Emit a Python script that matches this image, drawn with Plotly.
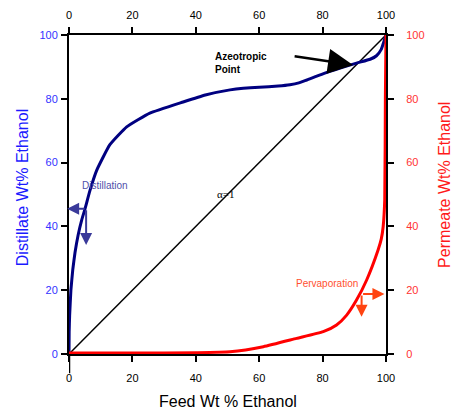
import plotly.graph_objects as go

# Distillation (vapour-liquid equilibrium) curve
dist_feed = [0, 0.05, 0.2, 0.6, 1.2, 1.9, 2.9, 4.0, 5.05, 6.6, 8.7, 12.9, 18.2, 25.5,
             36.0, 43.0, 50.8, 55.0, 60.0, 66.0, 69.7, 72.5, 75.0, 82.3, 90.7, 95.0,
             97.0, 98.5, 99.2, 100]
dist_vals = [0, 7, 12, 20, 26.5, 31.8, 37.4, 42.0, 45.5, 51.2, 57.5, 65.6, 71.2, 75.5,
             79.0, 81.2, 82.8, 83.3, 83.6, 84.0, 84.4, 85.0, 85.9, 88.6, 91.2, 92.4,
             93.5, 95.5, 97.5, 100]

# Pervaporation curve
perv_feed = [0, 20, 40, 50.8, 61.3, 71.8, 80.2, 84.4, 87.6, 90.7, 93.9, 97.5, 98.5,
             99.1, 99.6, 99.8, 100]
perv_vals = [0.3, 0.3, 0.4, 0.7, 2.3, 4.9, 7.0, 9.1, 12.2, 16.9, 23.2, 32.6, 36.0,
             39.9, 48.3, 80.0, 100]

# alpha = 1 diagonal
diag_x = [0, 100]
diag_y = [0, 100]

ticks = [0, 20, 40, 60, 80, 100]
tick_text = ["0", "20", "40", "60", "80", "100"]

FONT = "Liberation Sans, Arial, sans-serif"

fig = go.Figure()
fig.add_trace(go.Scatter(x=diag_x, y=diag_y, mode="lines",
                         line=dict(color="black", width=1.5), showlegend=False,
                         xaxis="x", yaxis="y"))
fig.add_trace(go.Scatter(x=dist_feed, y=dist_vals, mode="lines",
                         line=dict(color="#000080", width=3, shape="spline", smoothing=0.4),
                         showlegend=False, xaxis="x", yaxis="y"))
fig.add_trace(go.Scatter(x=perv_feed, y=perv_vals, mode="lines",
                         line=dict(color="#ff0000", width=3, shape="spline", smoothing=0.5),
                         showlegend=False, xaxis="x2", yaxis="y2"))

axis_common = dict(range=[0, 100], tickvals=ticks, ticktext=tick_text, automargin=False,
                   showgrid=False, zeroline=False, showline=True, linecolor="black",
                   linewidth=2, ticks="outside", ticklen=6, tickwidth=2,
                   tickcolor="black", fixedrange=True)

fig.update_layout(
    width=453, height=412,
    margin=dict(l=69, r=67, t=35, b=58, autoexpand=False),
    paper_bgcolor="white", plot_bgcolor="white",
    font=dict(family=FONT, size=11, color="black"),
    xaxis=dict(**axis_common, side="bottom", ticklabelstandoff=7,
               tickfont=dict(family=FONT, size=11, color="black")),
    xaxis2=dict(**axis_common, side="top", overlaying="x", anchor="y", ticklabelstandoff=4,
                tickfont=dict(family=FONT, size=11, color="black")),
    yaxis=dict(**axis_common, side="left", ticklabelstandoff=1,
               tickfont=dict(family=FONT, size=11, color="#3333ff")),
    yaxis2=dict(**axis_common, side="right", overlaying="y", anchor="x", ticklabelstandoff=10,
                tickfont=dict(family=FONT, size=11, color="#ff3333")),
)

# left axis extension below the bottom axis
fig.add_shape(type="line", xref="x", yref="paper", x0=0, x1=0, y0=0, y1=-0.06,
              line=dict(color="black", width=2.5))

ann = []
# axis titles
ann.append(dict(text="Distillate Wt% Ethanol", xref="paper", yref="paper",
                x=-0.148, y=0.52, textangle=-90, showarrow=False,
                font=dict(family=FONT, size=16, color="#1a1aff"),
                xanchor="center", yanchor="middle"))
ann.append(dict(text="Permeate Wt% Ethanol", xref="paper", yref="paper",
                x=1.186, y=0.53, textangle=-90, showarrow=False,
                font=dict(family=FONT, size=16, color="#ff1a1a"),
                xanchor="center", yanchor="middle"))
ann.append(dict(text="Feed Wt % Ethanol", xref="paper", yref="paper",
                x=0.5, y=-0.15, showarrow=False,
                font=dict(family=FONT, size=16, color="black"),
                xanchor="center", yanchor="middle"))

# text labels
ann.append(dict(text="Azeotropic<br>Point", x=45.5, y=91.2, xref="x", yref="y",
                showarrow=False, xanchor="left", yanchor="middle", align="left",
                font=dict(family=FONT, size=10, color="black", weight="bold")))
ann.append(dict(text="Distillation", x=11.4, y=52.7, xref="x", yref="y",
                showarrow=False, font=dict(family=FONT, size=10, color="#5050aa")))
ann.append(dict(text="Pervaporation", x=81.3, y=22.2, xref="x", yref="y",
                showarrow=False, font=dict(family=FONT, size=10, color="#ff5030")))
ann.append(dict(text="α=1", x=49.5, y=50.2, xref="x", yref="y",
                showarrow=False, font=dict(family="Liberation Serif, Times New Roman, serif",
                                           size=11, color="black")))

# azeotrope arrow
ann.append(dict(x=89.6, y=90.6, ax=70.7, ay=93.4, xref="x", yref="y", axref="x", ayref="y",
                text="", showarrow=True, arrowhead=2, arrowsize=2, arrowwidth=2.5,
                arrowcolor="black"))
# distillation arrows
for tx, ty in [(-0.6, 45.5), (5.4, 34.2)]:
    ann.append(dict(x=tx, y=ty, ax=5.4, ay=45.5, xref="x", yref="y", axref="x", ayref="y",
                    text="", showarrow=True, arrowhead=2, arrowsize=1.2, arrowwidth=2,
                    arrowcolor="#3a3a9a"))
# pervaporation arrows
for tx, ty in [(99.5, 18.8), (92.3, 11.7)]:
    ann.append(dict(x=tx, y=ty, ax=92.3, ay=18.8, xref="x", yref="y", axref="x", ayref="y",
                    text="", showarrow=True, arrowhead=2, arrowsize=1.2, arrowwidth=2,
                    arrowcolor="#ff4411"))

fig.update_layout(annotations=ann)
fig.write_html("out.html", config={"displayModeBar": False},
               post_script="document.body.style.margin='0px';document.body.style.overflow='hidden';")
